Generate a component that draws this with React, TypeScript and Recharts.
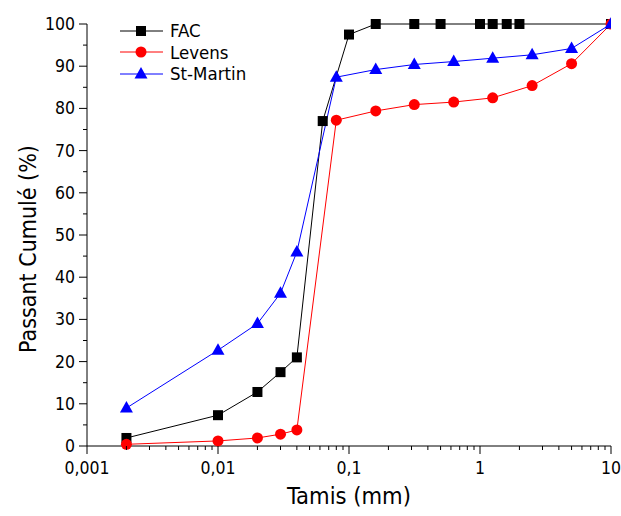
import { LineChart, Line, XAxis, YAxis, Legend } from 'recharts';

const facSizes = [0.002, 0.01, 0.02, 0.03, 0.04, 0.063, 0.1, 0.16, 0.315, 0.5, 1, 1.25, 1.6, 2, 10];
const facPassing = [1.9, 7.3, 12.8, 17.5, 21, 77, 97.5, 100, 100, 100, 100, 100, 100, 100, 100];

const levensSizes = [0.002, 0.01, 0.02, 0.03, 0.04, 0.08, 0.16, 0.315, 0.63, 1.25, 2.5, 5, 10];
const levensPassing = [0.4, 1.2, 1.9, 2.8, 3.8, 77.2, 79.4, 80.9, 81.5, 82.5, 85.4, 90.6, 100];

const stMartinSizes = [0.002, 0.01, 0.02, 0.03, 0.04, 0.08, 0.16, 0.315, 0.63, 1.25, 2.5, 5, 10];
const stMartinPassing = [9, 22.7, 29, 36.2, 46, 87.4, 89.2, 90.4, 91.1, 91.9, 92.7, 94.2, 100];

const decades = [0.001, 0.01, 0.1, 1];
const multipliers = [1, 2, 3, 4, 5, 6, 7, 8, 9];
const xTicks = [...decades.flatMap(d => multipliers.map(m => +(m * d).toPrecision(3))), 10];
const yTicks = [0, 5, 10, 15, 20, 25, 30, 35, 40, 45, 50, 55, 60, 65, 70, 75, 80, 85, 90, 95, 100];

const FONT = '"DejaVu Sans Condensed", "DejaVu Sans", sans-serif';

const toPoints = (xs: number[], ys: number[]) => xs.map((x, i) => ({ x, y: ys[i] }));

const series = [
  { name: 'FAC', color: '#000000', shape: 'square', data: toPoints(facSizes, facPassing) },
  { name: 'Levens', color: '#ff0000', shape: 'circle', data: toPoints(levensSizes, levensPassing) },
  { name: 'St-Martin', color: '#0000ff', shape: 'triangle', data: toPoints(stMartinSizes, stMartinPassing) },
];

function Marker({ cx, cy, shape, color }: { cx: number; cy: number; shape: string; color: string }) {
  if (shape === 'square') return <rect x={cx - 5} y={cy - 5} width={10} height={10} fill={color} />;
  if (shape === 'circle') return <circle cx={cx} cy={cy} r={5.5} fill={color} />;
  return <polygon points={`${cx},${cy - 7} ${cx - 6.5},${cy + 4.5} ${cx + 6.5},${cy + 4.5}`} fill={color} />;
}

function XTick({ x, y, payload }: any) {
  const v = payload.value as number;
  const lg = Math.log10(v);
  const major = Math.abs(lg - Math.round(lg)) < 1e-6;
  return (
    <g>
      <line x1={x} x2={x} y1={y} y2={y + (major ? 8 : 4)} stroke="#000" />
      {major && (
        <text x={x} y={y + 28} textAnchor="middle" fontSize={17.5} fontFamily={FONT} fill="#000">
          {String(v).replace('.', ',')}
        </text>
      )}
    </g>
  );
}

function YTick({ x, y, payload }: any) {
  const v = payload.value as number;
  const major = v % 10 === 0;
  return (
    <g>
      <line x1={x} x2={x - (major ? 8 : 4)} y1={y} y2={y} stroke="#000" />
      {major && (
        <text x={x - 12} y={y + 6} textAnchor="end" fontSize={17.5} fontFamily={FONT} fill="#000">
          {v}
        </text>
      )}
    </g>
  );
}

function LegendBox() {
  return (
    <div style={{ fontFamily: FONT, fontSize: 18.5, lineHeight: '21.5px' }}>
      {series.map(s => (
        <div key={s.name} style={{ display: 'flex', alignItems: 'center', height: 21.5 }}>
          <svg width={50} height={20}>
            <line x1={0} x2={43} y1={10} y2={10} stroke={s.color} />
            <Marker cx={21} cy={10} shape={s.shape} color={s.color} />
          </svg>
          <span style={{ color: '#000' }}>{s.name}</span>
        </div>
      ))}
    </div>
  );
}

export default function App() {
  return (
    <div style={{ position: 'absolute', left: 0, top: 0, width: 621, height: 516, background: '#fff' }}>
      <LineChart width={621} height={516} margin={{ top: 24, right: 10, bottom: 0, left: 0 }}>
        <XAxis
          dataKey="x"
          type="number"
          scale="log"
          domain={[0.001, 10]}
          allowDataOverflow
          ticks={xTicks}
          interval={0}
          tick={<XTick />}
          tickLine={false}
          tickSize={0}
          tickMargin={0}
          height={70}
          axisLine={{ stroke: '#000' }}
          label={({ viewBox }: any) => (
            <text x={viewBox.x + viewBox.width / 2} y={504} textAnchor="middle" fontSize={23.5} fontFamily={FONT} fill="#000">
              Tamis (mm)
            </text>
          )}
        />
        <YAxis
          type="number"
          domain={[0, 100]}
          ticks={yTicks}
          interval={0}
          tick={<YTick />}
          tickLine={false}
          tickSize={0}
          tickMargin={0}
          width={87}
          axisLine={{ stroke: '#000' }}
          label={() => (
            <text x={36} y={249} transform="rotate(-90 36 249)" textAnchor="middle" fontSize={23} fontFamily={FONT} fill="#000">
              Passant Cumulé (%)
            </text>
          )}
        />
        <Legend
          layout="vertical"
          align="center"
          verticalAlign="middle"
          wrapperStyle={{ left: 120, top: 20, width: 'auto' }}
          content={() => <LegendBox />}
        />
        {series.map(s => (
          <Line
            key={s.name}
            data={s.data}
            dataKey="y"
            name={s.name}
            stroke={s.color}
            strokeWidth={1}
            isAnimationActive={false}
            dot={(p: any) => <Marker key={`${s.name}-${p.index}`} cx={p.cx} cy={p.cy} shape={s.shape} color={s.color} />}
            activeDot={false}
          />
        ))}
      </LineChart>
    </div>
  );
}
